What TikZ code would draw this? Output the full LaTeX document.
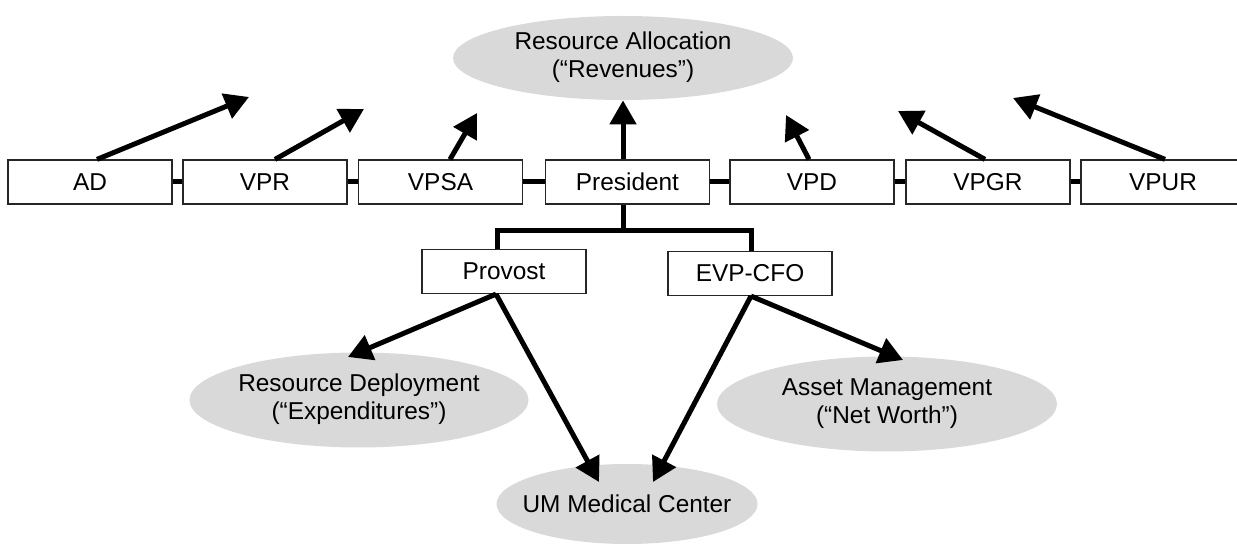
\documentclass[tikz,border=0pt]{standalone}
\usepackage{fontspec}
\setmainfont{Liberation Sans}
\usetikzlibrary{arrows.meta,shapes.geometric}
\definecolor{ellgray}{RGB}{217,217,217}
\newcommand{\twol}[2]{\makebox[0pt]{\begin{tabular}{@{}c@{}}#1\\#2\end{tabular}}}
\begin{document}
\begin{tikzpicture}[x=0.5pt,y=-0.5pt,
  every node/.style={font=\fontsize{12.2}{14}\selectfont},
  orgbox/.style={draw=black!85,line width=0.6pt,fill=white,rectangle,inner sep=0pt,minimum width=82pt,minimum height=22pt},
  oval/.style={ellipse,fill=ellgray,draw=none,inner sep=0pt},
  link/.style={line width=2.5pt},
  arr/.style={line width=2.5pt,-{Triangle[length=12pt,width=13pt]}}]
\useasboundingbox (0,0) rectangle (1237,544);
% ovals
\node[oval,minimum width=170pt,minimum height=42pt] (ra) at (623,58) {\twol{Resource Allocation}{(“Revenues”)}};
\node[oval,minimum width=169.5pt,minimum height=47.5pt] (rd) at (359,400) {\twol{Resource Deployment}{(“Expenditures”)}};
\node[oval,minimum width=170pt,minimum height=47.5pt] (am) at (887,404) {\twol{Asset Management}{(“Net Worth”)}};
\node[oval,minimum width=130.5pt,minimum height=40pt] (um) at (627,504) {\makebox[0pt]{UM Medical Center}};
% boxes
\node[orgbox] (ad) at (90,182) {AD};
\node[orgbox] (vpr) at (265,182) {VPR};
\node[orgbox] (vpsa) at (440.5,182) {VPSA};
\node[orgbox] (pres) at (627.5,182) {President};
\node[orgbox] (vpd) at (812,182) {VPD};
\node[orgbox] (vpgr) at (988,182) {VPGR};
\node[orgbox] (vpur) at (1163,182) {VPUR};
\node[orgbox] (prov) at (504,271.5) {Provost};
\node[orgbox] (evp) at (750,273.5) {EVP-CFO};
% horizontal links
\draw[link] (ad.east) -- (vpr.west);
\draw[link] (vpr.east) -- (vpsa.west);
\draw[link] (vpsa.east) -- (pres.west);
\draw[link] (pres.east) -- (vpd.west);
\draw[link] (vpd.east) -- (vpgr.west);
\draw[link] (vpgr.east) -- (vpur.west);
% tree
\coordinate (jn) at (623,231);
\draw[link] (623,0 |- pres.south) -- (jn);
\draw[link] (497,0 |- prov.north) -- (497,231) -- (751,231) -- (751,0 |- evp.north);
% free arrow ends
\coordinate (tad) at (249,97);
\coordinate (tvpr) at (364,109);
\coordinate (tvpsa) at (477,113);
\coordinate (tvpd) at (786,115);
\coordinate (tvpgr) at (898,111);
\coordinate (tvpur) at (1013,98);
\coordinate (trd) at (348,357);
\coordinate (tum1) at (599,482);
\coordinate (tum2) at (653,482);
\coordinate (tam) at (903,360);
% arrows
\draw[arr] (97,0 |- ad.north) -- (tad);
\draw[arr] (275,0 |- vpr.north) -- (tvpr);
\draw[arr] (450,0 |- vpsa.north) -- (tvpsa);
\draw[arr] (623,0 |- pres.north) -- (623,0 |- ra.south);
\draw[arr] (809,0 |- vpd.north) -- (tvpd);
\draw[arr] (985,0 |- vpgr.north) -- (tvpgr);
\draw[arr] (1165,0 |- vpur.north) -- (tvpur);
\draw[arr] (496,0 |- prov.south) -- (trd);
\draw[arr] (496,0 |- prov.south) -- (tum1);
\draw[arr] (751,0 |- evp.south) -- (tum2);
\draw[arr] (751,0 |- evp.south) -- (tam);
\end{tikzpicture}
\end{document}
